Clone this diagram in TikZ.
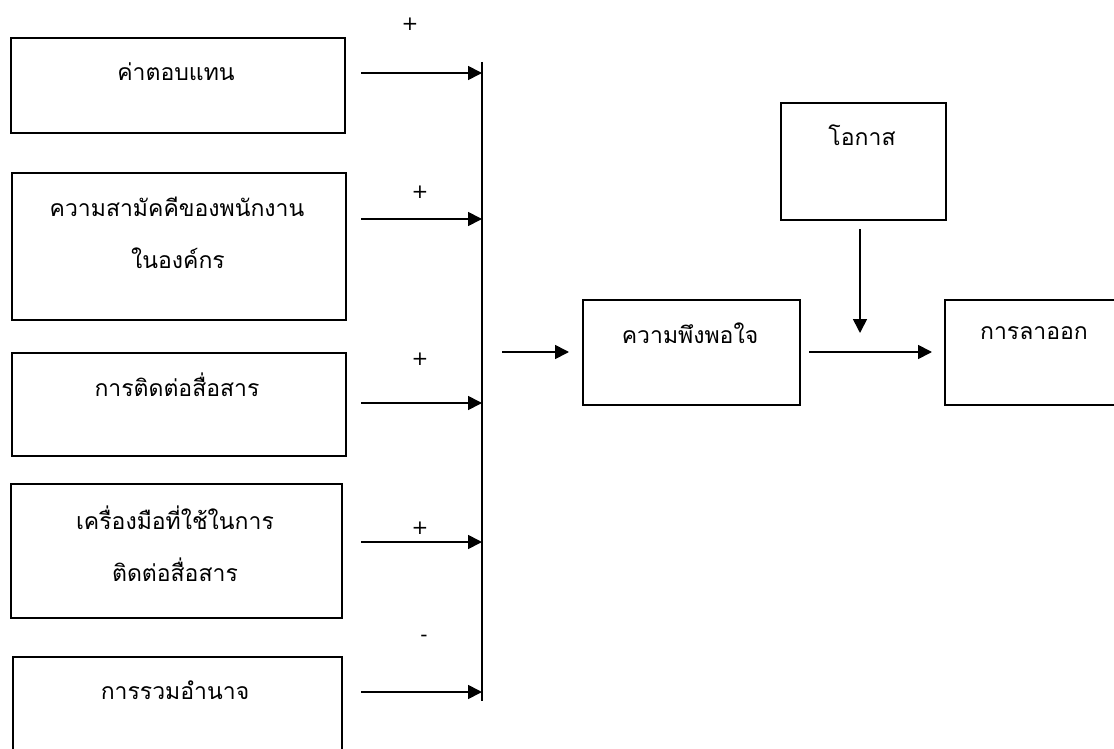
\documentclass[tikz,border=0pt]{standalone}
\usepackage{fontspec}
\newfontfamily\thaifont[Script=Thai]{Loma}
\newfontfamily\signfont{DejaVu Sans}
\usetikzlibrary{arrows.meta}
\tikzset{
  box/.style={draw, line width=1.8pt, inner sep=0pt, anchor=north west},
  txt/.style={font=\thaifont\fontsize{23}{27}\selectfont, inner sep=0pt},
  sign/.style={font=\signfont\fontsize{20}{24}\selectfont, inner sep=0pt},
  arr/.style={line width=1.7pt, -{Triangle[length=14pt,width=14pt]}},
  bus/.style={line width=1.7pt}
}
\begin{document}
\begin{tikzpicture}[x=1pt,y=-1pt]
\useasboundingbox (0,0) rectangle (1114,749);
\clip (0,0) rectangle (1114,749);
% left boxes
\node[box, minimum width=334pt, minimum height=95pt] (b1) at (10,37) {};
\node[box, minimum width=334pt, minimum height=147pt] (b2) at (11,172) {};
\node[box, minimum width=334pt, minimum height=103pt] (b3) at (11,352) {};
\node[box, minimum width=331pt, minimum height=134pt] (b4) at (10,483) {};
\node[box, minimum width=329pt, minimum height=120pt] (b5) at (12,656) {};
% right boxes
\node[box, minimum width=217pt, minimum height=105pt] (sat) at (582,299) {};
\node[box, minimum width=165pt, minimum height=117pt] (opp) at (780,102) {};
\node[box, minimum width=200pt, minimum height=105pt] (leave) at (944,299) {};
% texts
\node[txt] (t1) at (176,72) {ค่าตอบแทน};
\node[txt] (t2a) at (177,207) {ความสามัคคีของพนักงาน};
\node[txt] (t2b) at (178,258) {ในองค์กร};
\node[txt] (t3) at (177,385) {การติดต่อสื่อสาร};
\node[txt] (t4a) at (175,518) {เครื่องมือที่ใช้ในการ};
\node[txt] (t4b) at (175,570) {ติดต่อสื่อสาร};
\node[txt] (t5) at (175,690) {การรวมอำนาจ};
\node[txt] (ts) at (690,333) {ความพึงพอใจ};
\node[txt] (tl) at (1034,333) {การลาออก};
\node[txt] (to) at (862,135) {โอกาส};
% signs
\node[sign] (s1) at (410,24) {+};
\node[sign] (s2) at (420,192) {+};
\node[sign] (s3) at (420,359) {+};
\node[sign] (s4) at (420,528) {+};
\node[sign] (s5) at (424,638) {-};
% bus line
\coordinate (bustop) at (482,62);
\coordinate (busbot) at (482,701);
\draw[bus] (bustop) -- (busbot);
% arrow start points
\coordinate (a1) at (361,73);
\coordinate (a2) at (361,219);
\coordinate (a3) at (361,403);
\coordinate (a4) at (361,542);
\coordinate (a5) at (361,692);
\draw[arr] (a1) -- (a1 -| bustop);
\draw[arr] (a2) -- (a2 -| bustop);
\draw[arr] (a3) -- (a3 -| bustop);
\draw[arr] (a4) -- (a4 -| bustop);
\draw[arr] (a5) -- (a5 -| bustop);
% bus to satisfaction
\coordinate (bs) at (502,352);
\draw[arr] (bs) -- ([xshift=-13pt]sat.west |- bs);
% satisfaction to leave
\coordinate (sl) at (809,352);
\draw[arr] (sl) -- ([xshift=-12pt]leave.west |- sl);
% opportunity down
\coordinate (od) at (860,229);
\draw[arr] (od) -- (860,333);
\end{tikzpicture}
\end{document}
